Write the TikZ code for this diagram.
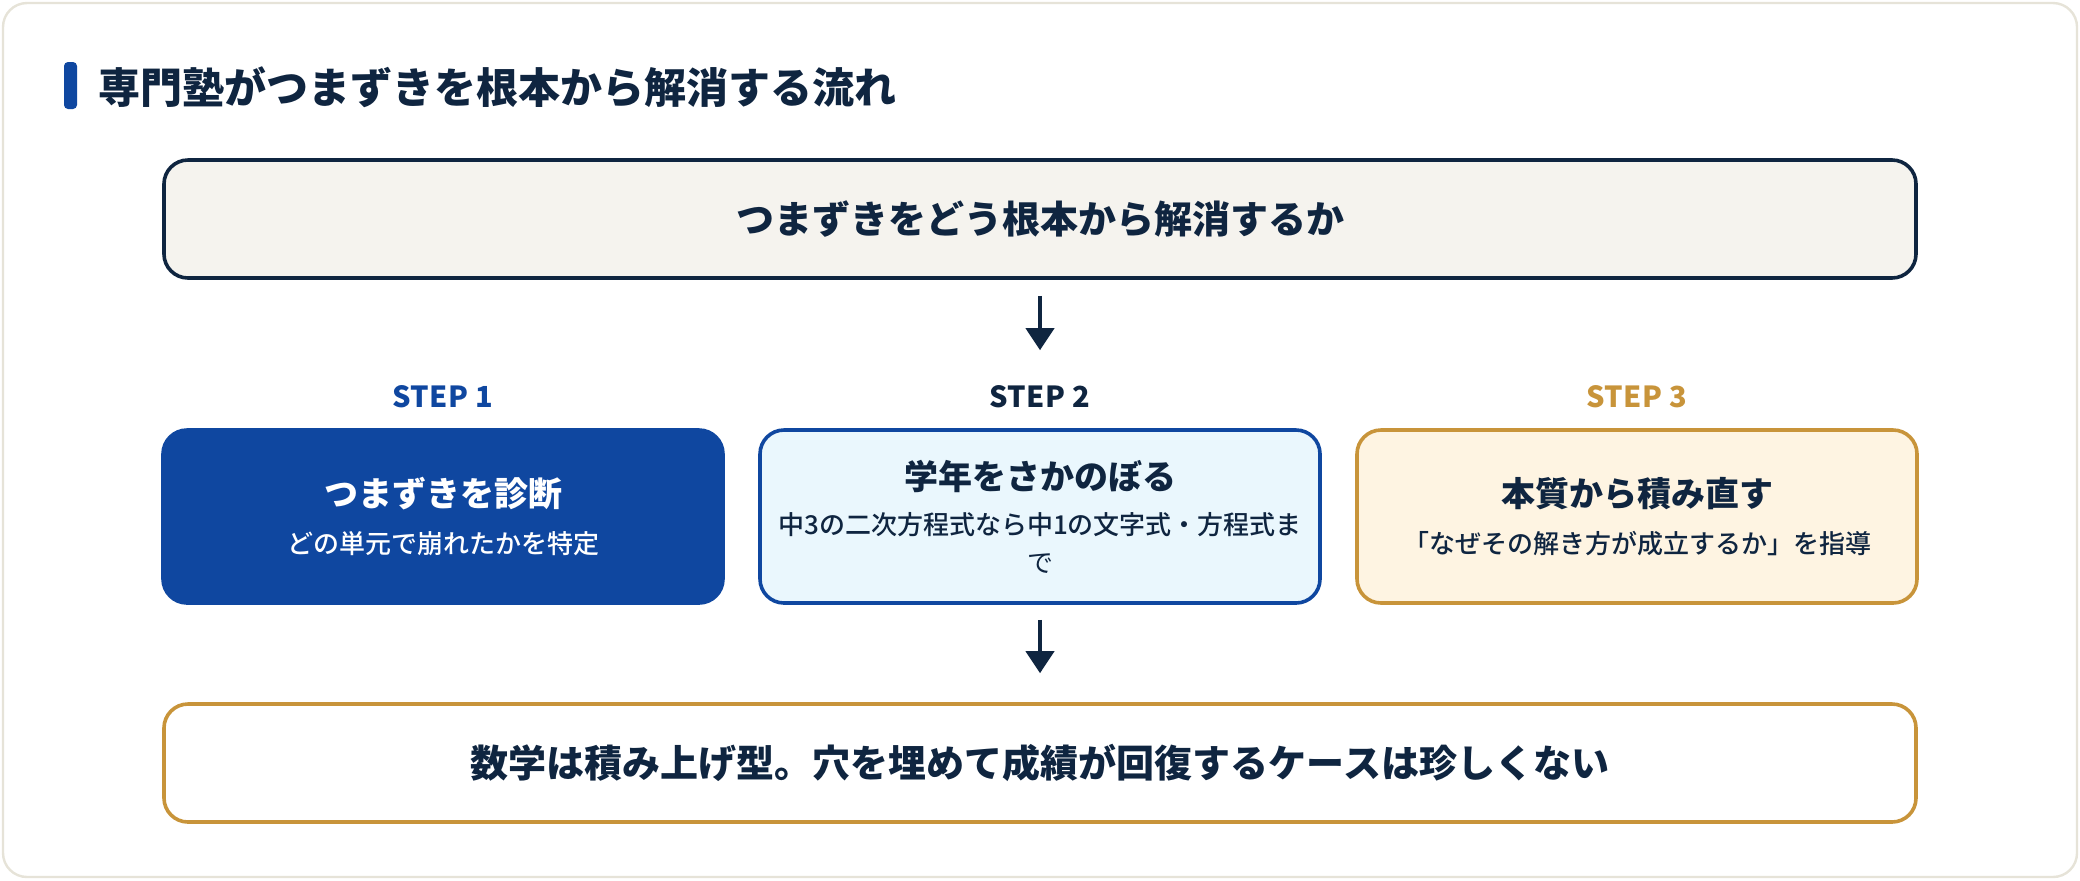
\documentclass[tikz,border=0pt]{standalone}
\usepackage{fontspec}
\setmainfont{Noto Sans CJK JP}
\newfontfamily\medfont{Noto Sans CJK JP Medium}
\usetikzlibrary{arrows.meta}
\definecolor{navy}{HTML}{0F2540}
\definecolor{mainblue}{HTML}{0F47A0}
\definecolor{gold}{HTML}{C8943A}
\definecolor{lightblue}{HTML}{EAF7FD}
\definecolor{cream}{HTML}{FEF4E2}
\definecolor{topfill}{HTML}{F5F3EE}
\definecolor{outerline}{HTML}{E6E3D8}
\newcommand{\sttl}{\fontsize{17}{19}\selectfont\bfseries}
\newcommand{\ssub}{\fontsize{13}{19}\selectfont\medfont}
\begin{document}
\begin{tikzpicture}[x=0.5pt,y=-0.5pt,
  card/.style={rounded corners=12pt, line width=1.8pt, align=center, inner sep=0pt},
  widebox/.style={card, minimum width=876pt, minimum height=59pt,
    font=\fontsize{19}{24}\selectfont\bfseries, text=navy},
  stepbox/.style={card, minimum width=280pt, minimum height=86.5pt,
    font=\fontsize{13}{19}\selectfont},
  steplab/.style={anchor=base, inner sep=0pt,
    font=\fontsize{14.5}{16}\selectfont\bfseries\addfontfeatures{LetterSpace=2}},
  arr/.style={draw=navy, line width=2pt, -{Triangle[length=11pt,width=14pt]}}
]
\useasboundingbox (0,0) rectangle (2080,880);
\draw[draw=outerline, line width=1.2pt, fill=white, rounded corners=12pt] (3,3) rectangle (2077,877);
% heading
\fill[mainblue, rounded corners=2pt] (64,62) rectangle (77,109);
\node[anchor=west, inner sep=0pt, text=navy, font=\fontsize{21}{24}\selectfont\bfseries] (title) at (98,87) {専門塾がつまずきを根本から解消する流れ};
% top box
\node[widebox, draw=navy, fill=topfill] (top) at (1040,219) {つまずきをどう根本から解消するか};
% step labels
\node[steplab, text=mainblue] (l1) at (443,407) {STEP 1};
\node[steplab, text=navy] (l2) at (1040,407) {STEP 2};
\node[steplab, text=gold] (l3) at (1637,407) {STEP 3};
% step boxes
\node[stepbox, draw=mainblue, fill=mainblue, text=white] (s1) at (443,516.5)
  {\sttl つまずきを診断\\[4.5pt]\ssub どの単元で崩れたかを特定};
\node[stepbox, draw=mainblue, fill=lightblue, text=navy] (s2) at (1040,516.5)
  {\sttl 学年をさかのぼる\\[3.5pt]\ssub 中3の二次方程式なら中1の文字式・方程式ま\\で};
\node[stepbox, draw=gold, fill=cream, text=navy] (s3) at (1637,516.5)
  {\sttl 本質から積み直す\\[4.5pt]\ssub 「なぜその解き方が成立するか」を指導};
% bottom box
\node[widebox, draw=gold, fill=white] (bot) at (1040,763) {数学は積み上げ型。穴を埋めて成績が回復するケースは珍しくない};
% arrows
\draw[arr, shorten <=8pt, shorten >=39pt] (top.south) -- (s2.north);
\draw[arr, shorten <=7.5pt, shorten >=14.5pt] (s2.south) -- (bot.north);
\end{tikzpicture}
\end{document}
